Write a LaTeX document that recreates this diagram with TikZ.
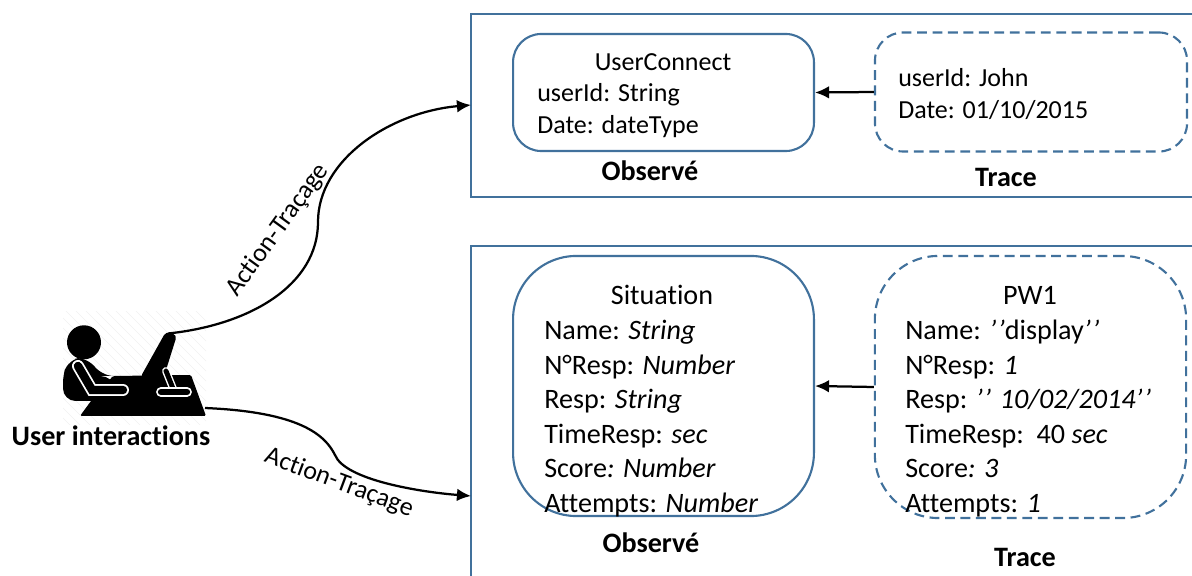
\documentclass[tikz,border=0pt]{standalone}
\usepackage{fontspec}
\setmainfont[Ligatures={TeX,NoCommon}]{Carlito}
\usetikzlibrary{arrows.meta}
\definecolor{frameblue}{HTML}{41719C}
\tikzset{
txt/.style={inner sep=0pt,font=\fontsize{20}{24.5}\selectfont},
smalltxt/.style={inner sep=0pt,font=\fontsize{18.5}{22.7}\selectfont},
body/.style={txt,anchor=west,align=left},
smallbody/.style={smalltxt,anchor=west,align=left},
caption/.style={inner sep=0pt,font=\fontsize{20}{24.5}\selectfont\bfseries},
obsbox/.style={draw=frameblue,line width=1.5pt,minimum width=7.52cm},
tracebox/.style={obsbox,dashed,dash pattern=on 7pt off 4pt},
action/.style={->,line width=1.6pt},
}
\begin{document}
\begin{tikzpicture}[>={Latex[length=10pt,width=9pt]},x=0.025cm,y=-0.025cm]
\useasboundingbox (0,0) rectangle (1192,576);
\begin{scope}
\clip (63,312) rectangle (206,425);
\foreach \xnull in {60,70,...,340}{
\draw[color=black!6,line width=0.3pt] (\xnull,425)--(\xnull-120,305);
}
\end{scope}
\draw[color=frameblue,line width=1.8pt] (1192,14)--(471,14)--(471,197)--(1192,197);
\draw[color=frameblue,line width=1.8pt] (1192,246)--(471,246)--(471,576);
\coordinate (frameone) at (471,105);
\coordinate (frametwo) at (471,496);
\node (userconnect) at (663.5,92.5) [obsbox,rounded corners=20pt,minimum height=2.925cm] {};
\node (traceone) at (1031,92) [tracebox,rounded corners=20pt,minimum width=7.8cm,minimum height=2.975cm] {};
\node (situation) at (663.5,386) [obsbox,rounded corners=45pt,minimum height=6.5cm] {};
\node (pwone) at (1030.5,387) [tracebox,rounded corners=45pt,minimum width=7.78cm,minimum height=6.55cm] {};
\node (connecttitle) at (663,62) [smalltxt] {UserConnect};
\node (connectbody) at (537,111) [smallbody] {userId: String\\Date: dateType};
\node (traceonebody) at (898,94) [smallbody] {userId: John\\Date: 01/10/2015};
\node (observeone) at (650,171) [caption] {Observé};
\node (tracelabelone) at (1006,177) [caption] {Trace};
\node (situationtitle) at (662,295) [txt] {Situation};
\node (situationbody) at (544,418.5) [body] {Name: \textit{String}\\N°Resp: \textit{Number}\\Resp: \textit{String}\\TimeResp: \textit{sec}\\Score\textit{: Number}\\Attempts: \textit{Number}};
\node (pwtitle) at (1030,295) [txt] {PW1};
\node (pwbody) at (905,418.5) [body] {Name: \textit{’\kern1pt’}display\textit{’\kern1pt’}\\N°Resp: \textit{1}\\Resp: \textit{’\kern1pt’ 10/02/2014’\kern1pt’}\\TimeResp:\ \ 40 \textit{sec}\\Score\textit{: 3}\\Attempts: \textit{1}};
\node (observetwo) at (651,543) [caption] {Observé};
\node (tracelabeltwo) at (1025,557) [caption] {Trace};
\node (userlabel) at (111,436) [caption] {User interactions};
\fill (84,342.3) circle (17);
\fill[rounded corners=1pt] (113,376)--(191,375)--(206,416)--(80,416)--(91,401)--cycle;
\fill[rounded corners=5pt] (63,401)--(63,376) [rounded corners=9pt] --(68,359)--(88,357)--(101,376)--(113,376)--(120,401)--cycle;
\fill[rounded corners=3pt] (166,331.5)--(177,335)--(161,386)--(152,385)--(140,378)--cycle;
\draw[white,line width=8.5pt,line cap=round] (78,366)--(92,390)--(123,390);
\draw[line width=6pt,line cap=round] (78,366)--(92,390)--(123,390);
\draw[white,line width=5.5pt,line cap=round] (166,371)--(174,391);
\draw[line width=3.5pt,line cap=round] (166,371)--(174,391);
\draw[white,line width=7pt,line cap=round] (161,392)--(187,392);
\draw[line width=4.5pt,line cap=round] (161,392)--(187,392);
\draw[action] (168,333.5) .. controls (250,325) and (318,285) .. (318,222) .. controls (318,160) and (390,112) .. (frameone);
\draw[action] (205,408) .. controls (300,412) and (325,435) .. (335,455) .. controls (345,480) and (420,492) .. (frametwo);
\draw[action] (traceone.west)--(userconnect.east);
\draw[action] (pwone.west)--(situation.east);
\node (actionone) at (278,230) [smalltxt,rotate=54] {Action-Traçage};
\node (actiontwo) at (339,483) [smalltxt,rotate=-20.5] {Action-Traçage};
\end{tikzpicture}
\end{document}
